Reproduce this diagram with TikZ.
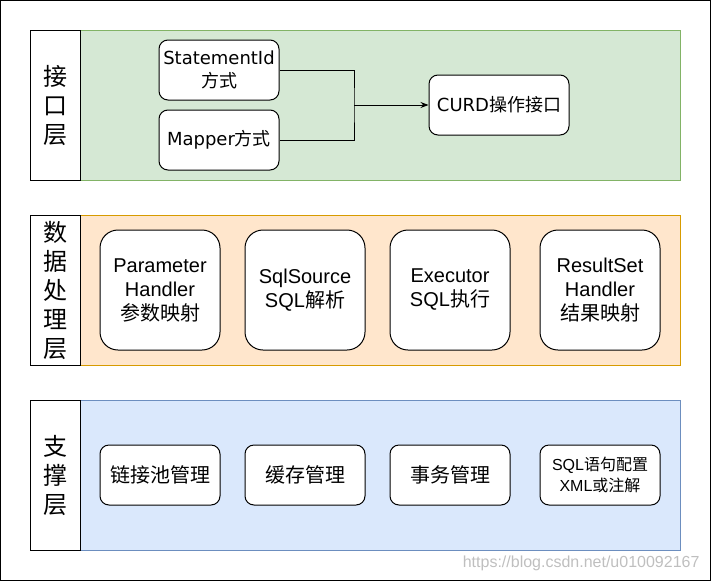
\documentclass[tikz,border=0pt]{standalone}
\usepackage{fontspec}
\setmainfont{Liberation Sans}
\newfontfamily\cjk{Noto Sans CJK SC}
\newfontfamily\roundsans{DejaVu Sans}
\usetikzlibrary{arrows.meta}

\definecolor{apifill}{HTML}{D5E8D4}
\definecolor{apiline}{HTML}{82B366}
\definecolor{datafill}{HTML}{FFE6CC}
\definecolor{dataline}{HTML}{D79B00}
\definecolor{basefill}{HTML}{DAE8FC}
\definecolor{baseline}{HTML}{6C8EBF}

\tikzset{
	band/.style={draw, line width=1pt, minimum width=600pt, minimum height=150pt, inner sep=0pt},
	layerlabel/.style={draw, fill=white, line width=1pt, minimum width=50pt, minimum height=150pt,
		inner sep=0pt, align=center, font=\cjk\fontsize{24}{29}\selectfont},
	card/.style={draw, fill=white, line width=1pt, rounded corners=9pt, minimum width=120pt,
		minimum height=60pt, inner sep=0pt, align=center, font=\fontsize{18}{23}\selectfont},
	apicard/.style={card, font=\roundsans\fontsize{18}{23}\selectfont},
	bigcard/.style={card, rounded corners=18pt, minimum height=120pt, font=\fontsize{20}{24}\selectfont}
}

\begin{document}
\begin{tikzpicture}[x=1pt, y=-1pt]
	\useasboundingbox (0,0) rectangle (711,581);
	\draw
		[line width=1pt] (0.5,0.5) rectangle (710.5,580.5);

	% interface layer
	\node [band, fill=apifill, draw=apiline] (apiband) at (380,105) {};
	\node [layerlabel] (apilabel) at (55,105) {接\\口\\层};

	\node [apicard] (stmtid) at (219,70) {StatementId\\{\cjk 方式}};
	\node [apicard] (mapper) at (219,140) {Mapper{\cjk 方式}};
	\node [apicard, minimum width=140pt] (curd) at (499,105) {CURD{\cjk 操作接口}};
	\coordinate (join) at (354,105);

	\draw
		[line width=1pt] (stmtid.east) -| (join) |- (mapper.east);
	\draw
		[line width=1pt, -{Stealth[length=8pt, width=6pt]}] (join) -- (curd.west);

	% data processing layer
	\node [band, fill=datafill, draw=dataline] (databand) at (380,290) {};
	\node [layerlabel] (datalabel) at (55,290) {数\\据\\处\\理\\层};

	\foreach \name/\x/\txt in {
			paramh/160/{Parameter\\Handler\\{\cjk 参数映射}},
			sqlsrc/305/{SqlSource\\SQL{\cjk 解析}},
			executor/450/{Executor\\SQL{\cjk 执行}},
			resulth/600/{ResultSet\\Handler\\{\cjk 结果映射}}}
		\node [bigcard] (\name) at (\x,290) {\txt};

	% support layer
	\node [band, fill=basefill, draw=baseline] (baseband) at (380,475) {};
	\node [layerlabel] (baselabel) at (55,475) {支\\撑\\层};

	\foreach \name/\x/\txt in {
			connpool/160/{链接池管理},
			cache/305/{缓存管理},
			txn/450/{事务管理}}
		\node [card, font=\cjk\fontsize{20}{24}\selectfont] (\name) at (\x,475) {\txt};

	\node [card, font=\fontsize{16}{21}\selectfont] (sqlcfg) at (600,475)
		{SQL{\cjk 语句配置}\\XML{\cjk 或注解}};

	\node [text=black!25, font=\fontsize{16}{18}\selectfont, anchor=east] (mark) at (703,563)
		{https://blog.csdn.net/u010092167};
\end{tikzpicture}
\end{document}
